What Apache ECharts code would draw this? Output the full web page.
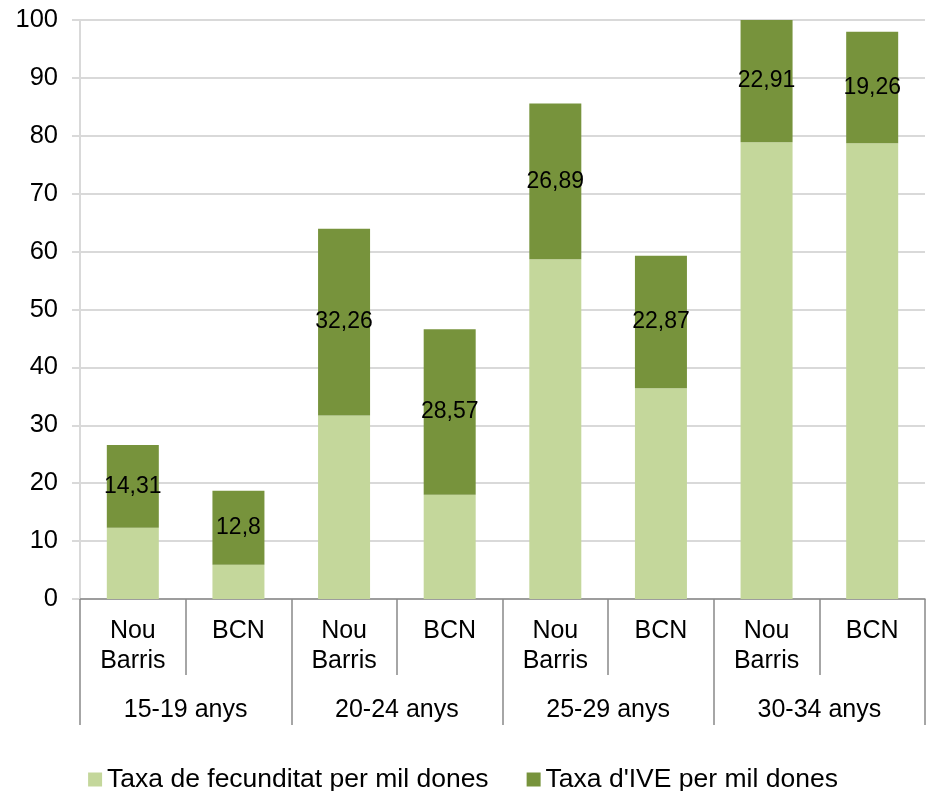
<!DOCTYPE html>
<html>
<head>
<meta charset="utf-8">
<script src="https://cdn.jsdelivr.net/npm/echarts@6/dist/echarts.min.js"></script>
<style>
html,body{margin:0;padding:0;background:#fff;}
#chart{width:926px;height:791px;}
</style>
</head>
<body>
<div id="chart"></div>
<script>
const categories = ['Nou\nBarris', 'BCN', 'Nou\nBarris', 'BCN', 'Nou\nBarris', 'BCN', 'Nou\nBarris', 'BCN'];
const groups = ['15-19 anys', '20-24 anys', '25-29 anys', '30-34 anys'];
const fecunditat = [12.3, 5.9, 31.7, 18.0, 58.7, 36.4, 78.9, 78.7];
const ive = [14.31, 12.8, 32.26, 28.57, 26.89, 22.87, 22.91, 19.26];
const yTicks = { min: 0, max: 100, interval: 10 };

const chart = echarts.init(document.getElementById('chart'));
const font = 'Liberation Sans, Arial, sans-serif';
chart.setOption({
  animation: false,
  textStyle: { fontFamily: font },
  grid: { left: 80, right: 1, top: 20, bottom: 192, containLabel: false },
  legend: {
    top: 761,
    left: 'center',
    icon: 'rect',
    itemWidth: 14,
    itemHeight: 14,
    itemGap: 38,
    textStyle: { fontSize: 26.5, color: '#000', fontFamily: font },
    data: ['Taxa de fecunditat per mil dones', "Taxa d'IVE per mil dones"]
  },
  xAxis: [
    {
      type: 'category',
      data: categories,
      position: 'bottom',
      axisLine: { show: true, lineStyle: { color: '#898989', width: 1.5 } },
      axisTick: { show: true, interval: 0, length: 76, lineStyle: { color: '#898989', width: 1.5 } },
      axisLabel: { interval: 0, fontSize: 25, color: '#000', lineHeight: 30, margin: 17, fontFamily: font },
      splitLine: { show: false }
    },
    {
      type: 'category',
      data: groups,
      position: 'bottom',
      axisLine: { show: false },
      axisTick: { show: true, interval: 0, length: 126, lineStyle: { color: '#898989', width: 1.5 } },
      axisLabel: { interval: 0, fontSize: 25, color: '#000', margin: 99, fontFamily: font },
      splitLine: { show: false }
    }
  ],
  yAxis: {
    type: 'value',
    min: yTicks.min,
    max: yTicks.max,
    interval: yTicks.interval,
    axisLine: { show: true, lineStyle: { color: '#d9d9d9', width: 2 } },
    axisTick: { show: true, length: 8, lineStyle: { color: '#d9d9d9', width: 2 } },
    axisLabel: { fontSize: 25.5, color: '#000', margin: 22, fontFamily: font },
    splitLine: { show: true, lineStyle: { color: '#d9d9d9', width: 2 } }
  },
  series: [
    {
      name: 'Taxa de fecunditat per mil dones',
      type: 'bar',
      stack: 'total',
      xAxisIndex: 0,
      barWidth: 52,
      itemStyle: { color: '#c4d79b' },
      data: fecunditat
    },
    {
      name: "Taxa d'IVE per mil dones",
      type: 'bar',
      stack: 'total',
      xAxisIndex: 0,
      barWidth: 52,
      clip: true,
      itemStyle: { color: '#77933c' },
      label: {
        show: true,
        position: 'inside',
        color: '#000',
        fontSize: 23,
        fontFamily: font,
        formatter: p => String(p.value).replace('.', ',')
      },
      data: ive
    }
  ]
});
</script>
</body>
</html>
